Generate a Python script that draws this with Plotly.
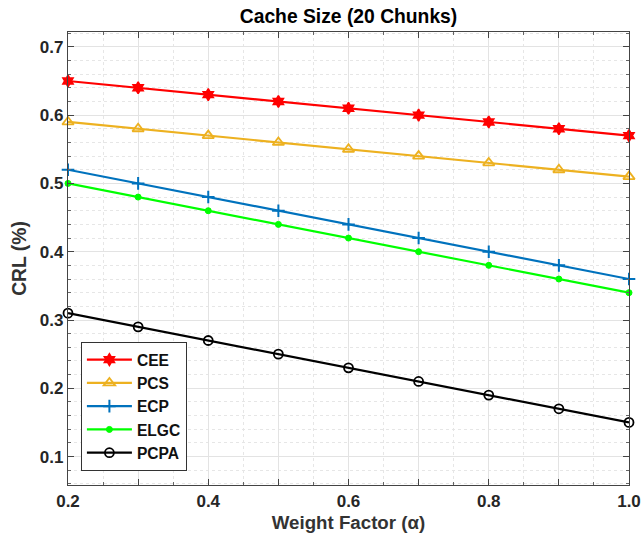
import plotly.graph_objects as go

weight = [0.2, 0.3, 0.4, 0.5, 0.6, 0.7, 0.8, 0.9, 1.0]
cee = [0.65, 0.64, 0.63, 0.62, 0.61, 0.60, 0.59, 0.58, 0.57]
pcs = [0.59, 0.58, 0.57, 0.56, 0.55, 0.54, 0.53, 0.52, 0.51]
ecp = [0.52, 0.50, 0.48, 0.46, 0.44, 0.42, 0.40, 0.38, 0.36]
elgc = [0.50, 0.48, 0.46, 0.44, 0.42, 0.40, 0.38, 0.36, 0.34]
pcpa = [0.31, 0.29, 0.27, 0.25, 0.23, 0.21, 0.19, 0.17, 0.15]

x_tickvals = [0.2, 0.3, 0.4, 0.5, 0.6, 0.7, 0.8, 0.9, 1.0]
x_ticktext = ["0.2", "", "0.4", "", "0.6", "", "0.8", "", "1.0"]
y_tickvals = [0.1, 0.2, 0.3, 0.4, 0.5, 0.6, 0.7]

series = [
    ("CEE", cee, "#FF0000", dict(symbol="hexagram", size=9, color="#FF0000", line=dict(color="#FF0000", width=1.5))),
    ("PCS", pcs, "#EDB120", dict(symbol="triangle-up-open", size=10, color="#EDB120", line=dict(color="#EDB120", width=1.8))),
    ("ECP", ecp, "#0072BD", dict(symbol="cross-thin-open", size=9, color="#0072BD", line=dict(color="#0072BD", width=2))),
    ("ELGC", elgc, "#00FF00", dict(symbol="circle", size=6, color="#00FF00", line=dict(color="#00FF00", width=1))),
    ("PCPA", pcpa, "#000000", dict(symbol="circle-open", size=9, color="#000000", line=dict(color="#000000", width=1.8))),
]

fig = go.Figure()
for name, vals, col, mk in series:
    fig.add_trace(go.Scatter(x=weight, y=vals, mode="lines+markers", name=name,
                             line=dict(color=col, width=2.2), marker=mk, cliponaxis=False))

font_family = "Liberation Sans, Arial, sans-serif"
fig.update_layout(
    width=644, height=540,
    margin=dict(l=68, r=15, t=32, b=55, autoexpand=False),
    paper_bgcolor="white", plot_bgcolor="white",
    title=dict(text="Cache Size (20 Chunks)", xref="paper", x=0.5, xanchor="center",
               yref="container", y=0.983, yanchor="top",
               font=dict(family=font_family, size=19.3, color="#000000", weight="bold")),
    font=dict(family=font_family, color="#222222"),
    legend=dict(x=0.023, y=0.031, xanchor="left", yanchor="bottom",
                bgcolor="white", bordercolor="#333333", borderwidth=1,
                font=dict(family=font_family, size=15.6, color="#111111", weight="bold"),
                tracegroupgap=0, itemwidth=45),
    xaxis=dict(range=[0.2, 1.0], tickvals=x_tickvals, ticktext=x_ticktext, automargin=False,
               tickfont=dict(size=17, color="#262626", family=font_family, weight="bold"),
               title=dict(text="Weight Factor (α)", font=dict(size=18.7, color="#333333", weight="bold"), standoff=6),
               showline=True, linecolor="#444444", linewidth=1.2, mirror="allticks",
               ticks="inside", ticklen=6, tickcolor="#444444",
               showgrid=True, gridcolor="#E3E3E3", gridwidth=1, zeroline=False,
               minor=dict(dtick=0.05, ticks="inside", ticklen=3, tickcolor="#666666",
                          showgrid=True, gridcolor="#E6E6E6", griddash="dot", gridwidth=1)),
    yaxis=dict(range=[0.0584, 0.7217], tickvals=y_tickvals, tickformat=".1f", automargin=False,
               tickfont=dict(size=17, color="#262626", family=font_family, weight="bold"),
               title=dict(text="CRL (%)", font=dict(size=19.3, color="#333333", weight="bold"), standoff=8),
               showline=True, linecolor="#444444", linewidth=1.2, mirror="allticks",
               ticks="inside", ticklen=6, tickcolor="#444444",
               showgrid=True, gridcolor="#E3E3E3", gridwidth=1, zeroline=False,
               minor=dict(dtick=0.02, tick0=0.0, ticks="inside", ticklen=3, tickcolor="#666666",
                          showgrid=True, gridcolor="#E6E6E6", griddash="dot", gridwidth=1)),
)

fig.write_html("out.html")
